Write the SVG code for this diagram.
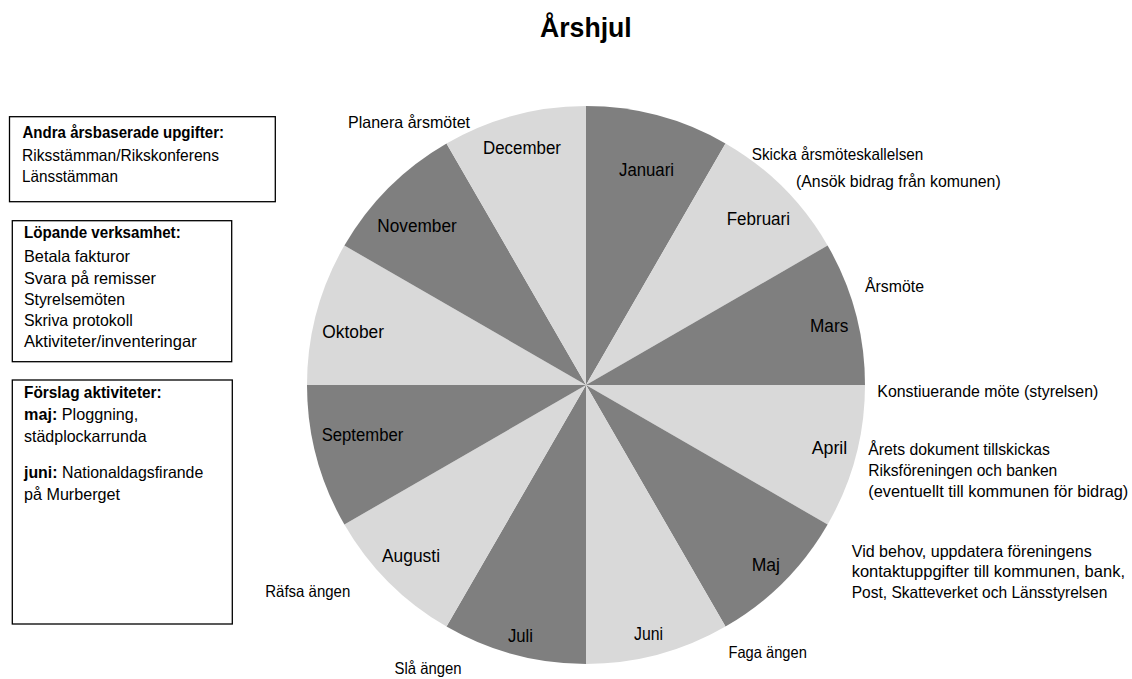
<svg xmlns="http://www.w3.org/2000/svg" width="1132" height="679" viewBox="0 0 1132 679">
<style>
text { font-family: "Liberation Sans", Arial, sans-serif; fill: #000; }
.t { font-size: 16.5px; }
.m { font-size: 17.5px; }
.b { font-weight: bold; }
.title { font-size: 27.5px; font-weight: bold; }
.dark { fill: #7f7f7f; }
.light { fill: #d9d9d9; }
.box { fill: #fff; stroke: #000; stroke-width: 1.3; }
</style>
<rect width="1132" height="679" fill="#fff"/>
<g id="title"><text class="title" x="540" y="36.5" textLength="91.7" lengthAdjust="spacingAndGlyphs">Årshjul</text></g>

<g id="wheel">
  <g id="seg-januari"><path class="dark" d="M586,385 L586,106 A279,279 0 0 1 725.5,143.38 Z"/><text class="m" x="619" y="176" textLength="55" lengthAdjust="spacingAndGlyphs">Januari</text></g>
  <g id="seg-februari"><path class="light" d="M586,385 L725.5,143.38 A279,279 0 0 1 827.62,245.5 Z"/><text class="m" x="726.7" y="225" textLength="63.3" lengthAdjust="spacingAndGlyphs">Februari</text></g>
  <g id="seg-mars"><path class="dark" d="M586,385 L827.62,245.5 A279,279 0 0 1 865,385 Z"/><text class="m" x="810" y="332.3" textLength="38.3" lengthAdjust="spacingAndGlyphs">Mars</text></g>
  <g id="seg-april"><path class="light" d="M586,385 L865,385 A279,279 0 0 1 827.62,524.5 Z"/><text class="m" x="811.7" y="454" textLength="35.6" lengthAdjust="spacingAndGlyphs">April</text></g>
  <g id="seg-maj"><path class="dark" d="M586,385 L827.62,524.5 A279,279 0 0 1 725.5,626.62 Z"/><text class="m" x="751.7" y="570.7" textLength="28.3" lengthAdjust="spacingAndGlyphs">Maj</text></g>
  <g id="seg-juni"><path class="light" d="M586,385 L725.5,626.62 A279,279 0 0 1 586,664 Z"/><text class="m" x="634" y="640" textLength="29" lengthAdjust="spacingAndGlyphs">Juni</text></g>
  <g id="seg-juli"><path class="dark" d="M586,385 L586,664 A279,279 0 0 1 446.5,626.62 Z"/><text class="m" x="508" y="641.7" textLength="25" lengthAdjust="spacingAndGlyphs">Juli</text></g>
  <g id="seg-augusti"><path class="light" d="M586,385 L446.5,626.62 A279,279 0 0 1 344.38,524.5 Z"/><text class="m" x="382" y="562" textLength="58" lengthAdjust="spacingAndGlyphs">Augusti</text></g>
  <g id="seg-september"><path class="dark" d="M586,385 L344.38,524.5 A279,279 0 0 1 307,385 Z"/><text class="m" x="321.7" y="441" textLength="81.6" lengthAdjust="spacingAndGlyphs">September</text></g>
  <g id="seg-oktober"><path class="light" d="M586,385 L307,385 A279,279 0 0 1 344.38,245.5 Z"/><text class="m" x="322.3" y="337.7" textLength="61.7" lengthAdjust="spacingAndGlyphs">Oktober</text></g>
  <g id="seg-november"><path class="dark" d="M586,385 L344.38,245.5 A279,279 0 0 1 446.5,143.38 Z"/><text class="m" x="377.3" y="231.7" textLength="79.4" lengthAdjust="spacingAndGlyphs">November</text></g>
  <g id="seg-december"><path class="light" d="M586,385 L446.5,143.38 A279,279 0 0 1 586,106 Z"/><text class="m" x="483" y="154.3" textLength="78" lengthAdjust="spacingAndGlyphs">December</text></g>
</g>

<g id="note-planera"><text class="t" x="348" y="128.3" textLength="122" lengthAdjust="spacingAndGlyphs">Planera årsmötet</text></g>
<g id="note-skicka">
  <text class="t" x="751.7" y="160" textLength="171.6" lengthAdjust="spacingAndGlyphs">Skicka årsmöteskallelsen</text>
  <text class="t" x="796" y="186.5" textLength="204.7" lengthAdjust="spacingAndGlyphs">(Ansök bidrag från komunen)</text>
</g>
<g id="note-arsmote"><text class="t" x="865" y="292.3" textLength="59" lengthAdjust="spacingAndGlyphs">Årsmöte</text></g>
<g id="note-konst"><text class="t" x="877.3" y="397" textLength="221" lengthAdjust="spacingAndGlyphs">Konstiuerande möte (styrelsen)</text></g>
<g id="note-dokument">
  <text class="t" x="868.3" y="455" textLength="181.7" lengthAdjust="spacingAndGlyphs">Årets dokument tillskickas</text>
  <text class="t" x="868.3" y="476" textLength="189" lengthAdjust="spacingAndGlyphs">Riksföreningen och banken</text>
  <text class="t" x="868.3" y="496.5" textLength="260" lengthAdjust="spacingAndGlyphs">(eventuellt till kommunen för bidrag)</text>
</g>
<g id="note-kontakt">
  <text class="t" x="851.7" y="556.7" textLength="240" lengthAdjust="spacingAndGlyphs">Vid behov, uppdatera föreningens</text>
  <text class="t" x="851.7" y="577" textLength="273.3" lengthAdjust="spacingAndGlyphs">kontaktuppgifter till kommunen, bank,</text>
  <text class="t" x="851.7" y="597.7" textLength="255.6" lengthAdjust="spacingAndGlyphs">Post, Skatteverket och Länsstyrelsen</text>
</g>
<g id="note-rafsa"><text class="t" x="265.3" y="597" textLength="85" lengthAdjust="spacingAndGlyphs">Räfsa ängen</text></g>
<g id="note-sla"><text class="t" x="394.5" y="674" textLength="67" lengthAdjust="spacingAndGlyphs">Slå ängen</text></g>
<g id="note-faga"><text class="t" x="728.5" y="657.5" textLength="78.3" lengthAdjust="spacingAndGlyphs">Faga ängen</text></g>

<g id="box-andra">
  <rect class="box" x="9.5" y="116.7" width="265.8" height="85"/>
  <text class="t b" x="22.5" y="138.3" textLength="201.5" lengthAdjust="spacingAndGlyphs">Andra årsbaserade upgifter:</text>
  <text class="t" x="22" y="160.7" textLength="197" lengthAdjust="spacingAndGlyphs">Riksstämman/Rikskonferens</text>
  <text class="t" x="22" y="181.7" textLength="96" lengthAdjust="spacingAndGlyphs">Länsstämman</text>
</g>
<g id="box-lopande">
  <rect class="box" x="12.3" y="220.7" width="219.4" height="141"/>
  <text class="t b" x="24" y="238.3" textLength="156.7" lengthAdjust="spacingAndGlyphs">Löpande verksamhet:</text>
  <text class="t" x="24" y="261.7" textLength="106" lengthAdjust="spacingAndGlyphs">Betala fakturor</text>
  <text class="t" x="24" y="284" textLength="132" lengthAdjust="spacingAndGlyphs">Svara på remisser</text>
  <text class="t" x="24" y="304.5" textLength="101" lengthAdjust="spacingAndGlyphs">Styrelsemöten</text>
  <text class="t" x="24" y="326" textLength="108.7" lengthAdjust="spacingAndGlyphs">Skriva protokoll</text>
  <text class="t" x="24" y="346.7" textLength="172.7" lengthAdjust="spacingAndGlyphs">Aktiviteter/inventeringar</text>
</g>
<g id="box-forslag">
  <rect class="box" x="12.3" y="380" width="220" height="244"/>
  <text class="t b" x="24" y="398.3" textLength="137.7" lengthAdjust="spacingAndGlyphs">Förslag aktiviteter:</text>
  <text class="t" x="24" y="420" textLength="114.3" lengthAdjust="spacingAndGlyphs"><tspan class="b">maj:</tspan> Ploggning,</text>
  <text class="t" x="24" y="441.7" textLength="122.7" lengthAdjust="spacingAndGlyphs">städplockarrunda</text>
  <text class="t" x="24" y="478.3" textLength="179.3" lengthAdjust="spacingAndGlyphs"><tspan class="b">juni:</tspan> Nationaldagsfirande</text>
  <text class="t" x="24" y="500" textLength="96" lengthAdjust="spacingAndGlyphs">på Murberget</text>
</g>
</svg>
